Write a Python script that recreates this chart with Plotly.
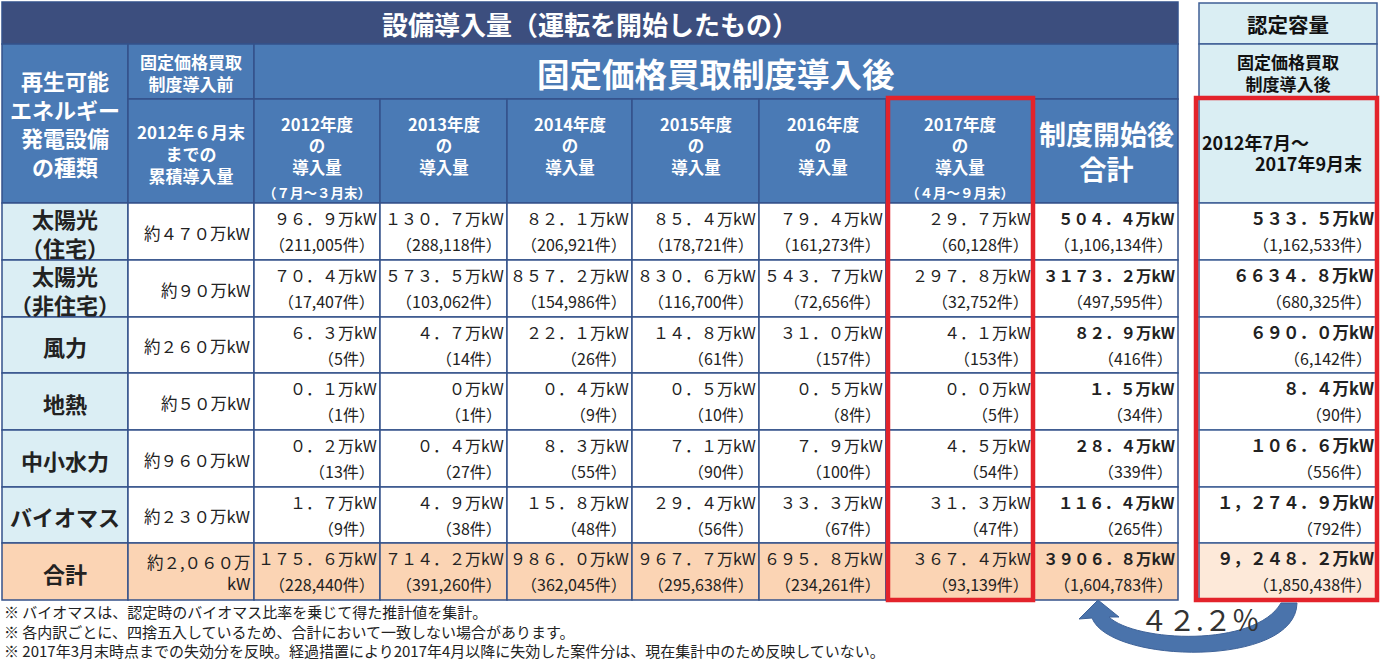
import plotly.graph_objects as go

FONT = "Noto Sans CJK JP, Noto Sans CJK SC, sans-serif"

# ---------------- data ----------------
title_main = "設備導入量（運転を開始したもの）"
title_after = "固定価格買取制度導入後"
header_kind = "再生可能\nエネルギー\n発電設備\nの種類"
header_before = "固定価格買取\n制度導入前"
header_before_sub = "2012年６月末\nまでの\n累積導入量"
header_total = "制度開始後\n合計"
header_cert = "認定容量"
header_cert_sub = "固定価格買取\n制度導入後"
header_cert_period = ["2012年7月～", "2017年9月末"]

categories = ["太陽光\n（住宅）", "太陽光\n（非住宅）", "風力", "地熱", "中小水力", "バイオマス", "合計"]
pre_fit = ["約４７０万kW", "約９０万kW", "約２６０万kW", "約５０万kW", "約９６０万kW", "約２３０万kW", "約２,０６０万\nkW"]
years = ["2012年度", "2013年度", "2014年度", "2015年度", "2016年度", "2017年度"]
year_periods = ["（７月～３月末）", "", "", "", "", "（４月～９月末）"]

# installed capacity (万kW), rows follow `categories`
cap_2012 = ["96.9", "70.4", "6.3", "0.1", "0.2", "1.7", "175.6"]
cap_2013 = ["130.7", "573.5", "4.7", "0", "0.4", "4.9", "714.2"]
cap_2014 = ["82.1", "857.2", "22.1", "0.4", "8.3", "15.8", "986.0"]
cap_2015 = ["85.4", "830.6", "14.8", "0.5", "7.1", "29.4", "967.7"]
cap_2016 = ["79.4", "543.7", "31.0", "0.5", "7.9", "33.3", "695.8"]
cap_2017 = ["29.7", "297.8", "4.1", "0.0", "4.5", "31.3", "367.4"]
cap_total = ["504.4", "3173.2", "82.9", "1.5", "28.4", "116.4", "3906.8"]
cap_certified = ["533.5", "6634.8", "690.0", "8.4", "106.6", "1,274.9", "9,248.2"]

# number of cases (件)
cnt_2012 = [211005, 17407, 5, 1, 13, 9, 228440]
cnt_2013 = [288118, 103062, 14, 1, 27, 38, 391260]
cnt_2014 = [206921, 154986, 26, 9, 55, 48, 362045]
cnt_2015 = [178721, 116700, 61, 10, 90, 56, 295638]
cnt_2016 = [161273, 72656, 157, 8, 100, 67, 234261]
cnt_2017 = [60128, 32752, 153, 5, 54, 47, 93139]
cnt_total = [1106134, 497595, 416, 34, 339, 265, 1604783]
cnt_certified = [1162533, 680325, 6142, 90, 556, 792, 1850438]

ratio_label = "４２.２％"
footnotes = [
    "※ バイオマスは、認定時のバイオマス比率を乗じて得た推計値を集計。",
    "※ 各内訳ごとに、四捨五入しているため、合計において一致しない場合があります。",
    "※ 2017年3月末時点までの失効分を反映。経過措置により2017年4月以降に失効した案件分は、現在集計中のため反映していない。",
]

# ---------------- layout geometry ----------------
col_edges = [2, 128, 254, 380, 507, 632, 759, 886, 1034, 1178]
row_edges = [2, 44, 99, 203, 260, 317, 373, 430, 487, 543, 600]
right_x = [1199, 1377]

C_TITLE = "#3c4e7e"
C_HEAD = "#4a7ab5"
C_GRID = "#34528a"
C_CAT = "#dbeef4"
C_TOT = "#fbd4b4"
C_TOT2 = "#fde9d9"
C_LIGHT = "#daeef3"
C_RED = "#e3232b"
C_TXT = "#222222"

FW = str.maketrans("0123456789.,", "０１２３４５６７８９．，")

shapes = []
anns = []


def rect(x0, y0, x1, y1, fill, line=C_GRID, lw=1.5, layer="below"):
    shapes.append(dict(type="rect", xref="x", yref="y", x0=x0, y0=y0, x1=x1, y1=y1,
                       fillcolor=fill, line=dict(color=line, width=lw), layer=layer))


def text(x, y, s, size, color=C_TXT, bold=False, xanchor="center"):
    s = s.replace("\n", "<br>")
    if bold:
        s = f"<b>{s}</b>"
    anns.append(dict(x=x, y=y, xref="x", yref="y", text=s, showarrow=False,
                     xanchor=xanchor, yanchor="middle", align=xanchor if xanchor != "center" else "center",
                     borderpad=0,
                     font=dict(family=FONT, size=size, color=color)))


W = "white"
# ---- header ----
rect(col_edges[0], row_edges[0], col_edges[-1], row_edges[1], C_TITLE)
text((col_edges[0] + col_edges[-1]) / 2, 23, title_main, 26, W, True)

rect(col_edges[0], row_edges[1], col_edges[1], row_edges[3], C_HEAD)
text((col_edges[0] + col_edges[1]) / 2, 123, header_kind, 22, W, True)

rect(col_edges[1], row_edges[1], col_edges[2], row_edges[2], C_HEAD)
text((col_edges[1] + col_edges[2]) / 2, 72, header_before, 17, W, True)

rect(col_edges[2], row_edges[1], col_edges[-1], row_edges[2], C_HEAD)
text((col_edges[2] + col_edges[-1]) / 2, 72, title_after, 32.5, W, True)

rect(col_edges[1], row_edges[2], col_edges[2], row_edges[3], C_HEAD)
text((col_edges[1] + col_edges[2]) / 2, 153, header_before_sub, 17, W, True)

for i, yr in enumerate(years):
    x0, x1 = col_edges[2 + i], col_edges[3 + i]
    rect(x0, row_edges[2], x1, row_edges[3], C_HEAD)
    xc = (x0 + x1) / 2
    text(xc, 145, f"{yr}\nの\n導入量", 16.5, W, True)
    if year_periods[i]:
        text(xc, 192, year_periods[i], 13.5, W, True)

rect(col_edges[8], row_edges[2], col_edges[9], row_edges[3], C_HEAD)
text((col_edges[8] + col_edges[9]) / 2, 151, header_total, 27, W, True)

# right header
RG = "#3f5f95"
rect(right_x[0], 3, right_x[1], row_edges[1], C_LIGHT, RG)
text(sum(right_x) / 2, 24, header_cert, 20.5, "#111", True)
rect(right_x[0], row_edges[1], right_x[1], row_edges[2], C_LIGHT, RG)
text(sum(right_x) / 2, 72, header_cert_sub, 17, "#111", True)
rect(right_x[0], row_edges[2], right_x[1], row_edges[3], C_LIGHT, RG)
text(right_x[0] + 2, 142, header_cert_period[0], 18, "#111", True, "left")
text(right_x[1] - 14, 163, header_cert_period[1], 18, "#111", True, "right")

# ---- body ----
cap_cols = [cap_2012, cap_2013, cap_2014, cap_2015, cap_2016, cap_2017, cap_total]
cnt_cols = [cnt_2012, cnt_2013, cnt_2014, cnt_2015, cnt_2016, cnt_2017, cnt_total]

for r, cat in enumerate(categories):
    top, bot = row_edges[3 + r], row_edges[4 + r]
    is_tot = r == len(categories) - 1
    rect(col_edges[0], top, col_edges[1], bot, C_TOT if is_tot else C_CAT)
    text((col_edges[0] + col_edges[1]) / 2, (top + bot) / 2 + 1, cat, 22, bold=True)

    rect(col_edges[1], top, col_edges[2], bot, C_TOT if is_tot else "white")
    text(col_edges[2] - 2, (top + bot) / 2 + 1, pre_fit[r], 16.5, xanchor="right")

    for c in range(7):
        x0, x1 = col_edges[2 + c], col_edges[3 + c]
        rect(x0, top, x1, bot, C_TOT if is_tot else "white")
        bold = c == 6
        text(x1 - 2, top + 14.5, cap_cols[c][r].translate(FW) + "万kW",
             15.5 if bold else 16, bold=bold, xanchor="right")
        text(x1 - 4, top + 41, f"（{cnt_cols[c][r]:,}件）", 16, xanchor="right")

    rect(right_x[0], top, right_x[1], bot, C_TOT2 if is_tot else "white", RG)
    text(right_x[1] - 2, top + 14.5, cap_certified[r].translate(FW) + "万kW", 16.5, bold=True, xanchor="right")
    text(right_x[1] - 4, top + 41, f"（{cnt_certified[r]:,}件）", 16, xanchor="right")

# ---- red highlight boxes ----
shapes.append(dict(type="rect", xref="x", yref="y", x0=888, y0=98, x1=1033, y1=600,
                   fillcolor="rgba(0,0,0,0)", line=dict(color=C_RED, width=4.5), layer="above"))
shapes.append(dict(type="rect", xref="x", yref="y", x0=1196, y0=98, x1=1377, y1=600,
                   fillcolor="rgba(0,0,0,0)", line=dict(color=C_RED, width=4.5), layer="above"))

# ---- curved arrow ----
shapes.append(dict(type="path", xref="x", yref="y",
                   path="M 1098 600 L 1119 617 L 1109 617 C 1135 642, 1255 648, 1281 603 "
                        "L 1297 603 C 1296 668, 1110 664, 1092 618 L 1079 619 Z",
                   fillcolor="#4a73ab", line=dict(color="#3f6399", width=1), layer="above"))
text(1200, 619, ratio_label, 28, "#333", False)

# ---- footnotes ----
text(3, 631, "\n".join(footnotes), 15, "#222", False, "left")

fig = go.Figure()
fig.add_trace(go.Scatter(x=[0, 1380], y=[0, 663], mode="markers", marker=dict(opacity=0),
                         hoverinfo="skip", showlegend=False))
fig.update_layout(
    width=1380, height=663,
    margin=dict(l=0, r=0, t=0, b=0),
    paper_bgcolor="white", plot_bgcolor="white",
    shapes=shapes, annotations=anns, showlegend=False,
    xaxis=dict(range=[0, 1380], visible=False, fixedrange=True),
    yaxis=dict(range=[663, 0], visible=False, fixedrange=True),
)
fig.write_html("out.html", config={"displayModeBar": False},
               post_script="document.body.style.margin='0';document.body.style.overflow='hidden';")
